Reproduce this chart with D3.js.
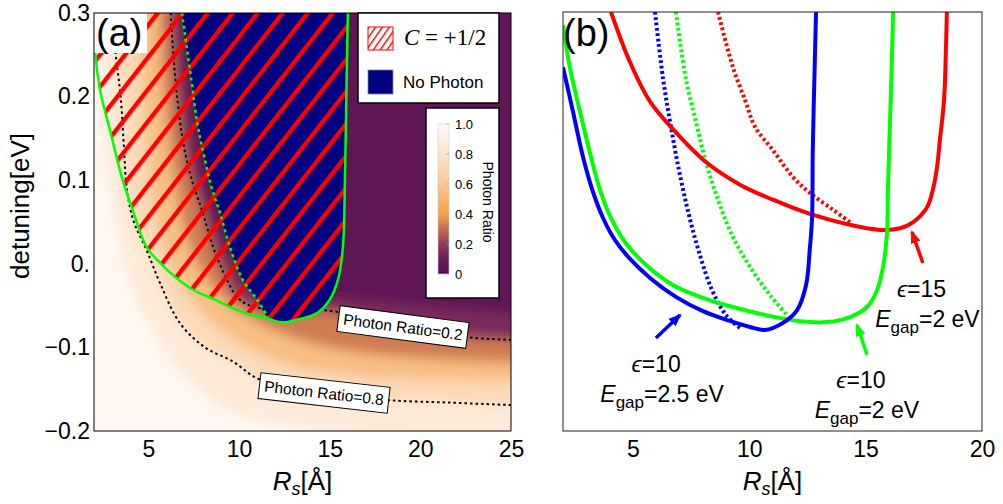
<!DOCTYPE html>
<html>
<head>
<meta charset="utf-8">
<script src="https://cdn.jsdelivr.net/npm/d3@7"></script>
<style>
  body { margin: 0; background: #fff; overflow: hidden; }
  svg { font-family: "Liberation Sans", Arial, sans-serif; }
</style>
</head>
<body>
<div id="chart"></div>
<script>

// ---------- data (R_s in Angstrom, detuning in eV) ----------

// axis ticks
const rTicksA = [5, 10, 15, 20, 25];
const rTicksB = [5, 10, 15, 20];
const detTicks = [-0.2, -0.1, 0, 0.1, 0.2, 0.3];
const detTickLabels = ["\u22120.2", "\u22120.1", "0.", "0.1", "0.2", "0.3"];
const cbTicks = [0, 0.2, 0.4, 0.6, 0.8, 1.0];
const cbTickLabels = ["0", "0.2", "0.4", "0.6", "0.8", "1.0"];

// colour map of the photon ratio
const cmapStops = [0, 0.1, 0.2, 0.3, 0.4, 0.5, 0.6, 0.8, 1.0];
const cmapColors = ["#540b52", "#6c1d58", "#8d3c5d", "#c26f55", "#f4a24c", "#f7b46f", "#f9c796", "#fde3cd", "#fffdfb"];

// photon ratio contour lines
const heatLevels = [0.9, 0.8, 0.65, 0.45, 0.2, 0.08];
const contour90 = [[2.3, 0.3], [2.5, 0.2], [2.9, 0.1], [3.5, 0.02], [4.5, -0.05], [6.5, -0.12], [9, -0.17], [13, -0.195], [18, -0.21], [25, -0.215]];
const contour80 = [[3.0, 0.3], [3.2, 0.25], [3.47, 0.2], [3.65, 0.14], [3.82, 0.088], [4.2, 0.05], [4.9, 0.0165], [5.64, -0.023], [6.74, -0.071], [8.12, -0.1], [9.67, -0.117], [11.0, -0.137], [13, -0.147], [15.5, -0.156], [18.2, -0.163], [21.6, -0.166], [25, -0.169]];
const contour65 = [[4.5, 0.3], [4.7, 0.2], [5.0, 0.12], [5.5, 0.05], [6.2, 0.0], [7.3, -0.04], [8.8, -0.075], [10.5, -0.1], [13, -0.122], [16, -0.133], [20, -0.138], [25, -0.14]];
const contour45 = [[5.6, 0.3], [5.8, 0.22], [6.1, 0.15], [6.6, 0.08], [7.3, 0.02], [8.3, -0.02], [9.6, -0.05], [11.5, -0.075], [14, -0.095], [17, -0.107], [21, -0.114], [25, -0.118]];
const contour20 = [[6.23, 0.3], [6.41, 0.24], [6.69, 0.18], [6.96, 0.14], [7.4, 0.1], [8.0, 0.061], [8.57, 0.02], [9.33, -0.019], [9.9, -0.04], [10.6, -0.05], [12, -0.055], [14.9, -0.056], [17, -0.065], [19, -0.075], [22.7, -0.088], [25, -0.091]];
const contour08 = [[6.75, 0.3], [7.0, 0.22], [7.4, 0.15], [8.0, 0.09], [8.8, 0.04], [9.8, 0.0], [11, -0.03], [13, -0.038], [16, -0.042], [20, -0.05], [25, -0.06]];

// C = +1/2 region (green solid) and the no-photon edge (green dotted)
const chernBoundary = [[2.02, 0.3], [2.08, 0.25], [2.33, 0.208], [2.88, 0.16], [3.53, 0.104], [4.2, 0.06], [4.9, 0.02], [5.7, 0.0], [6.5, -0.016], [7.46, -0.031], [8.78, -0.044], [10.2, -0.058], [11.5, -0.065], [12.4, -0.07], [13.36, -0.066], [14.3, -0.059], [15.0, -0.043], [15.46, -0.019], [15.73, 0.02], [15.84, 0.1], [15.92, 0.2], [16.0, 0.3]];
const noPhotonEdge = [[6.85, 0.3], [7.37, 0.22], [7.7, 0.168], [8.07, 0.129], [8.5, 0.09], [8.95, 0.061], [9.5, 0.02], [10.2, -0.019], [11.0, -0.043], [11.6, -0.064]];

// panel (b): boundaries (solid) and no-photon edges (dotted)
const blueSolid = [[2.0, 0.234], [2.43, 0.181], [2.86, 0.127], [3.29, 0.0852], [3.72, 0.0542], [4.23, 0.0279], [4.88, 0.0053], [5.74, -0.0174], [6.85, -0.04], [8.01, -0.057], [9.17, -0.0687], [10.03, -0.0759], [10.68, -0.0795], [11.45, -0.071], [12.05, -0.056], [12.44, -0.026], [12.6, 0.016], [12.7, 0.055], [12.73, 0.135], [12.82, 0.243], [12.87, 0.3]];
const greenSolid = [[2.0, 0.2845], [2.3, 0.2332], [2.73, 0.181], [3.16, 0.1317], [3.59, 0.0876], [4.06, 0.0542], [4.66, 0.0255], [5.57, -0.002], [6.73, -0.026], [8.01, -0.041], [9.3, -0.052], [10.76, -0.062], [12.18, -0.069], [13.34, -0.07], [14.33, -0.064], [15.06, -0.052], [15.49, -0.032], [15.75, -0.004], [15.92, 0.036], [15.96, 0.088], [16.05, 0.171], [16.13, 0.243], [16.18, 0.3]];
const redSolid = [[4.06, 0.3], [4.88, 0.24], [5.74, 0.193], [6.73, 0.16], [8.14, 0.121], [9.6, 0.094], [11.02, 0.076], [12.61, 0.059], [14.33, 0.046], [15.62, 0.04], [16.48, 0.042], [17.03, 0.049], [17.64, 0.067], [17.89, 0.088], [18.07, 0.115], [18.19, 0.147], [18.37, 0.195], [18.45, 0.255], [18.49, 0.3]];
const blueDotted = [[5.95, 0.3], [6.3, 0.22], [6.6, 0.169], [6.98, 0.1115], [7.41, 0.0578], [7.88, 0.01], [8.4, -0.0317], [9.0, -0.0616], [9.6, -0.077]];
const greenDotted = [[6.85, 0.3], [7.28, 0.22], [7.71, 0.169], [8.14, 0.121], [8.66, 0.0757], [9.3, 0.0315], [10.03, -0.004], [10.89, -0.0377], [11.66, -0.0628]];
const redDotted = [[8.66, 0.3], [9.3, 0.234], [9.82, 0.195], [10.25, 0.163], [11.02, 0.135], [11.88, 0.103], [12.61, 0.084], [13.6, 0.064], [14.33, 0.049]];

// panel (b) annotations: arrow tail, arrow head, label anchor
const annotColors = ["#0000ff", "#00ff00", "#ff0000"];
const annotEps = ["10", "10", "15"];
const annotGap = ["2.5", "2", "2"];
const arrowFrom = [[5.99, -0.089], [15.06, -0.109], [17.46, 0.0005]];
const arrowTo = [[7.03, -0.0616], [14.63, -0.0735], [16.99, 0.0375]];
const annotAt = [[6.0, -0.13], [14.8, -0.149], [17.4, -0.04]];

// ---------- layout ----------
const W = 1003, H = 504;
const A = { left: 94, right: 511, top: 13, bottom: 431 };
const B = { left: 563, right: 982, top: 12, bottom: 431 };

const xA = d3.scaleLinear().domain([2, 25]).range([A.left, A.right]);
const yA = d3.scaleLinear().domain([-0.2, 0.3]).range([A.bottom, A.top]);
const xB = d3.scaleLinear().domain([2, 20]).range([B.left, B.right]);
const yB = d3.scaleLinear().domain([-0.2, 0.3]).range([B.bottom, B.top]);

const cmap = d3.scaleLinear().domain(cmapStops).range(cmapColors).interpolate(d3.interpolateRgb);

const svg = d3.select("#chart").append("svg")
  .attr("width", W)
  .attr("height", H);

const defs = svg.append("defs");

defs.append("clipPath").attr("id", "clipA")
  .append("rect").attr("x", A.left).attr("y", A.top)
  .attr("width", A.right - A.left).attr("height", A.bottom - A.top);
defs.append("clipPath").attr("id", "clipB")
  .append("rect").attr("x", B.left).attr("y", B.top)
  .attr("width", B.right - B.left).attr("height", B.bottom - B.top);

defs.append("filter").attr("id", "soft")
  .attr("x", "-10%").attr("y", "-10%").attr("width", "120%").attr("height", "120%")
  .append("feGaussianBlur").attr("stdDeviation", 6);

// big hatch for the plot
let hatch = defs.append("pattern").attr("id", "hatch")
  .attr("patternUnits", "userSpaceOnUse")
  .attr("width", 60).attr("height", 19.7)
  .attr("patternTransform", "translate(155,13) rotate(-52)");
hatch.append("rect").attr("x", 0).attr("y", 0).attr("width", 60).attr("height", 4.4).attr("fill", "#ff0000");

// small hatch for the legend swatch
let hatchS = defs.append("pattern").attr("id", "hatchSmall")
  .attr("patternUnits", "userSpaceOnUse")
  .attr("width", 20).attr("height", 5.6)
  .attr("patternTransform", "translate(368,27) rotate(-55)");
hatchS.append("rect").attr("x", 0).attr("y", 0).attr("width", 20).attr("height", 1.4).attr("fill", "#ff0000");

// colour bar gradient
let grad = defs.append("linearGradient").attr("id", "cbar")
  .attr("x1", 0).attr("y1", 1).attr("x2", 0).attr("y2", 0);
cmapStops.forEach(function (s, i) {
  grad.append("stop").attr("offset", s).attr("stop-color", cmapColors[i]);
});

// arrow heads
annotColors.forEach(function (c, i) {
  defs.append("marker").attr("id", "arrow" + i)
    .attr("markerUnits", "userSpaceOnUse")
    .attr("viewBox", "0 0 13 10").attr("refX", 11).attr("refY", 5)
    .attr("markerWidth", 13).attr("markerHeight", 10)
    .attr("orient", "auto")
    .append("path").attr("d", "M0,0 L13,5 L0,10 z").attr("fill", c);
});

// ---------- panel (a) ----------
const lineA = d3.line().x(d => xA(d[0])).y(d => yA(d[1])).curve(d3.curveCatmullRom.alpha(0.5));
const lineB = d3.line().x(d => xB(d[0])).y(d => yB(d[1])).curve(d3.curveCatmullRom.alpha(0.5));

// region beyond a contour (towards low photon ratio), extended past the frame
function beyond(pts) {
  let first = pts[0], last = pts[pts.length - 1];
  let d = lineA(pts);
  return "M" + xA(first[0]) + "," + yA(0.6) + " L" + d.slice(1) +
    " L" + xA(40) + "," + yA(last[1]) + " L" + xA(40) + "," + yA(0.6) + " Z";
}

const plotA = svg.append("g").attr("clip-path", "url(#clipA)");

const heat = plotA.append("g").attr("filter", "url(#soft)");
heat.append("rect")
  .attr("x", xA(-5)).attr("y", yA(0.6))
  .attr("width", xA(40) - xA(-5)).attr("height", yA(-0.5) - yA(0.6))
  .attr("fill", cmap((1 + heatLevels[0]) / 2));

const heatContours = [contour90, contour80, contour65, contour45, contour20, contour08];
heatContours.forEach(function (pts, i) {
  let next = i + 1 < heatLevels.length ? heatLevels[i + 1] : 0;
  heat.append("path")
    .attr("d", beyond(pts))
    .attr("fill", cmap((heatLevels[i] + next) / 2));
});

// labelled contour lines
[contour80, contour20].forEach(function (pts) {
  plotA.append("path")
    .attr("d", lineA(pts))
    .attr("fill", "none")
    .attr("stroke", "#000")
    .attr("stroke-width", 2)
    .attr("stroke-dasharray", "2.5,3");
});

// no photon region
let lastEdge = noPhotonEdge[noPhotonEdge.length - 1];
let navyPts = [[noPhotonEdge[0][0], 0.36]]
  .concat(noPhotonEdge)
  .concat(chernBoundary.filter(p => p[0] > lastEdge[0] + 0.4))
  .concat([[chernBoundary[chernBoundary.length - 1][0], 0.36]]);
plotA.append("path")
  .attr("d", lineA(navyPts) + "Z")
  .attr("fill", "#000080");

// hatched C = +1/2 region
let chernPts = [[chernBoundary[0][0], 0.36]]
  .concat(chernBoundary)
  .concat([[chernBoundary[chernBoundary.length - 1][0], 0.36]]);
defs.append("clipPath").attr("id", "clipChern")
  .append("path").attr("d", lineA(chernPts) + "Z");
plotA.append("rect")
  .attr("clip-path", "url(#clipChern)")
  .attr("x", A.left).attr("y", A.top)
  .attr("width", A.right - A.left).attr("height", A.bottom - A.top)
  .attr("fill", "url(#hatch)");

plotA.append("path")
  .attr("d", lineA(noPhotonEdge))
  .attr("fill", "none")
  .attr("stroke", "#00ff00")
  .attr("stroke-width", 2.5)
  .attr("stroke-dasharray", "3,3.5");

plotA.append("path")
  .attr("d", lineA(chernBoundary))
  .attr("fill", "none")
  .attr("stroke", "#00ff00")
  .attr("stroke-width", 2.5);

// contour labels
const ratioLabels = [["Photon Ratio=0.2", 19.04, -0.0756, 7.5], ["Photon Ratio=0.8", 14.69, -0.1545, 6.5]];
ratioLabels.forEach(function (l) {
  let g = svg.append("g")
    .attr("transform", "translate(" + xA(l[1]) + "," + yA(l[2]) + ") rotate(" + l[3] + ")");
  g.append("rect").attr("x", -65).attr("y", -13).attr("width", 130).attr("height", 26)
    .attr("fill", "#fff").attr("stroke", "#000").attr("stroke-width", 1);
  g.append("text").attr("text-anchor", "middle").attr("y", 5.5)
    .style("font-size", "15.5px").text(l[0]);
});

// (a) tag
svg.append("rect").attr("x", A.left).attr("y", A.top).attr("width", 53).attr("height", 40).attr("fill", "#fff");
svg.append("text").attr("x", A.left + 2).attr("y", 46).style("font-size", "38px").text("(a)");

// frame
svg.append("rect").attr("x", A.left).attr("y", A.top)
  .attr("width", A.right - A.left).attr("height", A.bottom - A.top)
  .attr("fill", "none").attr("stroke", "#000").attr("stroke-width", 1);

// axes
let axL = svg.append("g").attr("transform", "translate(" + A.left + ",0)")
  .call(d3.axisLeft(yA).tickValues(detTicks).tickFormat((d, i) => detTickLabels[i]).tickSize(0).tickPadding(4));
let axBA = svg.append("g").attr("transform", "translate(0," + A.bottom + ")")
  .call(d3.axisBottom(xA).tickValues(rTicksA).tickSize(0).tickPadding(10));
let axBB = svg.append("g").attr("transform", "translate(0," + B.bottom + ")")
  .call(d3.axisBottom(xB).tickValues(rTicksB).tickSize(0).tickPadding(10));
[axL, axBA, axBB].forEach(function (ax) {
  ax.select(".domain").remove();
  ax.selectAll("text").style("font-size", "23px").style("font-family", "'Liberation Sans', Arial, sans-serif").attr("fill", "#000");
});

svg.append("text")
  .attr("transform", "translate(29,206) rotate(-90)")
  .attr("text-anchor", "middle")
  .style("font-size", "26px")
  .text("detuning[eV]");

function rsTitle(cx) {
  let t = svg.append("text").attr("x", cx).attr("y", 490).attr("text-anchor", "middle").style("font-size", "26px");
  t.append("tspan").style("font-style", "italic").text("R");
  t.append("tspan").style("font-style", "italic").style("font-size", "18px").attr("dy", 5).text("s");
  t.append("tspan").attr("dy", -5).text("[\u00c5]");
}
rsTitle((A.left + A.right) / 2);
rsTitle((B.left + B.right) / 2);

// legend
let leg = svg.append("g");
leg.append("rect").attr("x", 358).attr("y", 13).attr("width", 141).attr("height", 90)
  .attr("fill", "#fff").attr("stroke", "#000").attr("stroke-width", 1.5);
leg.append("rect").attr("x", 368).attr("y", 27).attr("width", 25).attr("height", 23)
  .attr("fill", "url(#hatchSmall)").attr("stroke", "#ff0000").attr("stroke-width", 1);
let ct = leg.append("text").attr("x", 404).attr("y", 45)
  .style("font-family", "'Liberation Serif', 'Times New Roman', serif").style("font-size", "23px");
ct.append("tspan").style("font-style", "italic").text("C");
ct.append("tspan").text(" = +1/2");
leg.append("rect").attr("x", 368).attr("y", 70).attr("width", 25).attr("height", 24)
  .attr("fill", "#000080").attr("stroke", "#8080b0").attr("stroke-width", 0.8);
leg.append("text").attr("x", 403).attr("y", 88).style("font-size", "17px").text("No Photon");

// colour bar
const yCb = d3.scaleLinear().domain([0, 1]).range([274, 124]);
let cb = svg.append("g");
cb.append("rect").attr("x", 426).attr("y", 108).attr("width", 73).attr("height", 190)
  .attr("fill", "#fff").attr("stroke", "#000").attr("stroke-width", 1.5);
cb.append("rect").attr("x", 438).attr("y", yCb(1)).attr("width", 11).attr("height", yCb(0) - yCb(1))
  .attr("fill", "url(#cbar)").attr("stroke", "#ccc").attr("stroke-width", 0.6);
cbTicks.forEach(function (v, i) {
  cb.append("line").attr("x1", 446).attr("x2", 449).attr("y1", yCb(v)).attr("y2", yCb(v))
    .attr("stroke", "#999").attr("stroke-width", 0.6);
  cb.append("text").attr("x", 455).attr("y", yCb(v) + 4.5).style("font-size", "13px").text(cbTickLabels[i]);
});
cb.append("text")
  .attr("transform", "translate(483,202) rotate(90)")
  .attr("text-anchor", "middle")
  .style("font-size", "14px")
  .text("Photon Ratio");

// ---------- panel (b) ----------
const plotB = svg.append("g").attr("clip-path", "url(#clipB)");

const curvesB = [
  [redDotted, "#ff0000", true], [greenDotted, "#00ff00", true], [blueDotted, "#0000ff", true],
  [redSolid, "#ff0000", false], [greenSolid, "#00ff00", false], [blueSolid, "#0000ff", false]
];
curvesB.forEach(function (c) {
  plotB.append("path")
    .attr("d", lineB(c[0]))
    .attr("fill", "none")
    .attr("stroke", c[1])
    .attr("stroke-width", 4)
    .attr("stroke-dasharray", c[2] ? "2.7,2.7" : null);
});

annotColors.forEach(function (c, i) {
  svg.append("line")
    .attr("x1", xB(arrowFrom[i][0])).attr("y1", yB(arrowFrom[i][1]))
    .attr("x2", xB(arrowTo[i][0])).attr("y2", yB(arrowTo[i][1]))
    .attr("stroke", c).attr("stroke-width", 3.5)
    .attr("marker-end", "url(#arrow" + i + ")");

  let cx = xB(annotAt[i][0]), cy = yB(annotAt[i][1]);
  let t1 = svg.append("text").attr("x", cx).attr("y", cy).attr("text-anchor", "middle").style("font-size", "23px");
  t1.append("tspan").style("font-style", "italic").text("\u03f5");
  t1.append("tspan").text("=" + annotEps[i]);

  let t2 = svg.append("text").attr("x", cx + 6).attr("y", cy + 30).attr("text-anchor", "middle").style("font-size", "23px");
  t2.append("tspan").style("font-style", "italic").text("E");
  t2.append("tspan").style("font-size", "17px").attr("dy", 6).text("gap");
  t2.append("tspan").attr("dy", -6).text("=" + annotGap[i] + " eV");
});

svg.append("text").attr("x", B.left).attr("y", 46).style("font-size", "38px").text("(b)");

svg.append("rect").attr("x", B.left).attr("y", B.top)
  .attr("width", B.right - B.left).attr("height", B.bottom - B.top)
  .attr("fill", "none").attr("stroke", "#222").attr("stroke-width", 1);

</script>
</body>
</html>
